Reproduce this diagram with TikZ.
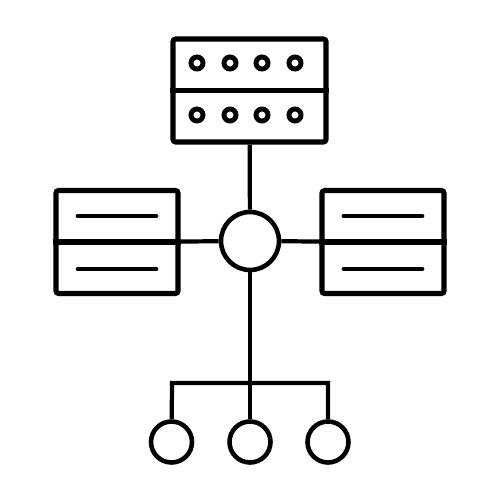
\documentclass[tikz,border=0pt]{standalone}
\usetikzlibrary{positioning}
\tikzstyle{every node}+=[inner sep=0mm,line width=2.6pt]
\tikzstyle{every path}+=[line width=2.4pt]
\newcommand{\drawedges}[2][\empty]{
	\foreach \a/\b in {#2}{
		\draw[#1] (\a) -- (\b);
	}
}

\begin{document}
\begin{tikzpicture}[x=0.2mm,y=-0.2mm]
\useasboundingbox (0,0) rectangle (500,500);

\tikzstyle{panel}=[draw,rectangle,rounded corners=1.5pt,line width=2.9pt,minimum height=20.6mm]
\tikzstyle{led}=[draw,circle,line width=2.8pt,minimum size=2.4mm]
\tikzstyle{leaf}=[draw,circle,minimum size=8.2mm]

% server rack
\node[panel,minimum width=30.6mm] (srv) at (249.5, 90.5) {};
\draw[line width=2.9pt] (srv.west) -- (srv.east);
\foreach \x [count=\i] in {197,230,262,295}{
	\node[led] (a\i) at (\x, 63) {};
	\node[led] (b\i) at (\x, 115) {};
}

% hub and side panels
\node[draw,circle,minimum size=11.6mm] (hub) at (250, 241) {};
\node[panel,minimum width=24.4mm] (lp) at (117, 242) {};
\node[panel,minimum width=24.4mm] (rp) at (383, 242) {};
\draw[line width=2.9pt] (lp.west) -- (lp.east);
\draw[line width=2.9pt] (rp.west) -- (rp.east);
\foreach \p in {lp,rp}{
	\draw[line cap=round,line width=2.8pt] ([shift={(-39,-26)}]\p.center) -- ([shift={(39,-26)}]\p.center);
	\draw[line cap=round,line width=2.8pt] ([shift={(-39,27)}]\p.center) -- ([shift={(39,27)}]\p.center);
}

% bus and leaves
\coordinate (bl) at (172, 383);
\coordinate (bm) at (250, 383);
\coordinate (br) at (328, 383);
\node[leaf] (l1) at (171.5, 442) {};
\node[leaf] (l2) at (250, 442) {};
\node[leaf] (l3) at (328, 442) {};

\drawedges{srv/hub,lp/hub,hub/rp,hub/bm,bm/l2}
\draw (l1) -- (bl) -- (br) -- (l3);

\end{tikzpicture}
\end{document}
